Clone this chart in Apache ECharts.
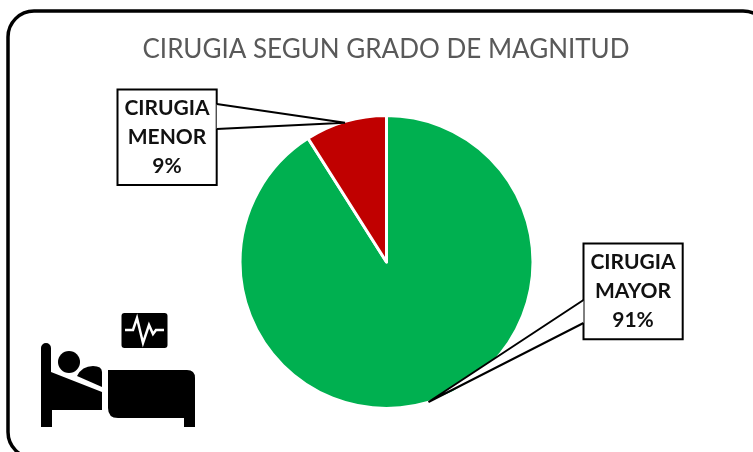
<!DOCTYPE html>
<html><head><meta charset="utf-8">
<style>html,body{margin:0;padding:0;background:#fff}#c{width:753px;height:452px}</style>
<script src="https://cdn.jsdelivr.net/npm/echarts@6/dist/echarts.min.js"></script>
</head><body><div id="c"></div>
<script>
const titleText = 'CIRUGIA SEGUN GRADO DE MAGNITUD';
const categories = ['CIRUGIA MAYOR', 'CIRUGIA MENOR'];
const values = [91, 9];
const colors = ['#00B050', '#C00000'];
const labelFont = 'Lato, "Open Sans", sans-serif';

echarts.graphic.registerShape('bedHead', echarts.graphic.extendPath('M41 348 a5 5 0 0 1 10 0 V372 L102 392 V410 H52 V427 H41 Z', {}));
echarts.graphic.registerShape('bedBody', echarts.graphic.extendPath('M77 376 Q82 366 93 366 Q102 366 102 372 V387 Z', {}));
echarts.graphic.registerShape('bedFoot', echarts.graphic.extendPath('M108 370 H187 Q195 370 195 378 V427 H184 V418 H118 Q108 418 108 408 Z', {}));

const labelSpots = [{x: 633, y: 291.5}, {x: 167, y: 137.5}];
const chart = echarts.init(document.getElementById('c'), null, {renderer: 'canvas'});
const callout = {stroke: '#000', fill: '#fff', lineWidth: 2, lineJoin: 'miter'};
chart.setOption({
  animation: false,
  backgroundColor: '#fff',
  title: {
    text: titleText, left: 381, top: 32, textAlign: 'center',
    textStyle: {color: '#595959', fontSize: 26, fontWeight: 'normal', fontFamily: labelFont}
  },
  series: [{
    type: 'pie', center: [386.5, 262], radius: [0, 146.5], startAngle: 90, clockwise: true,
    data: categories.map((name, i) => ({name, value: values[i], itemStyle: {color: colors[i]}})),
    itemStyle: {borderColor: '#fff', borderWidth: 3},
    label: {
      show: true, position: 'outside', color: '#111',
      fontFamily: labelFont, fontWeight: 'bold', fontSize: 21, lineHeight: 29, align: 'center',
      formatter: p => p.name.replace(' ', '\n') + '\n' + p.value + '%'
    },
    labelLine: {show: false},
    labelLayout: p => ({x: labelSpots[p.dataIndex].x, y: labelSpots[p.dataIndex].y, align: 'center', verticalAlign: 'middle'}),
    emphasis: {disabled: true},
    z: 5
  }],
  graphic: [
    {type: 'rect', z: 0, shape: {x: 8, y: 11, width: 761, height: 447, r: 26},
     style: {fill: 'none', stroke: '#000', lineWidth: 3.5}},
    {type: 'polygon', z: 1, shape: {points: [[216.7,104],[216.7,89.5],[117.5,89.5],[117.5,185],[216.7,185],[216.7,129]]}, style: callout},
    {type: 'polygon', z: 1, shape: {points: [[583.5,323],[583.5,339.3],[682.7,339.3],[682.7,243.5],[583.5,243.5],[583.5,300]]}, style: callout},
    {type: 'polyline', z: 6, shape: {points: [[216.7,104],[345,122.7],[216.7,129]]}, style: callout},
    {type: 'polyline', z: 6, shape: {points: [[583.5,300],[428.5,402],[583.5,323]]}, style: callout},
    {type: 'group', z: 3, children: [
      {type: 'rect', shape: {x: 121.5, y: 313, width: 46, height: 35, r: 3}, style: {fill: '#000'}},
      {type: 'polyline', shape: {points: [[125,330],[133,330],[137,318],[143,343],[149,325],[153,334],[156,330],[164,330]]},
       style: {fill: 'none', stroke: '#fff', lineWidth: 2.5}},
      {type: 'bedHead', style: {fill: '#000'}},
      {type: 'circle', shape: {cx: 69, cy: 362, r: 11}, style: {fill: '#000'}},
      {type: 'bedBody', style: {fill: '#000'}},
      {type: 'bedFoot', style: {fill: '#000'}}
    ]}
  ]
});
</script></body></html>
